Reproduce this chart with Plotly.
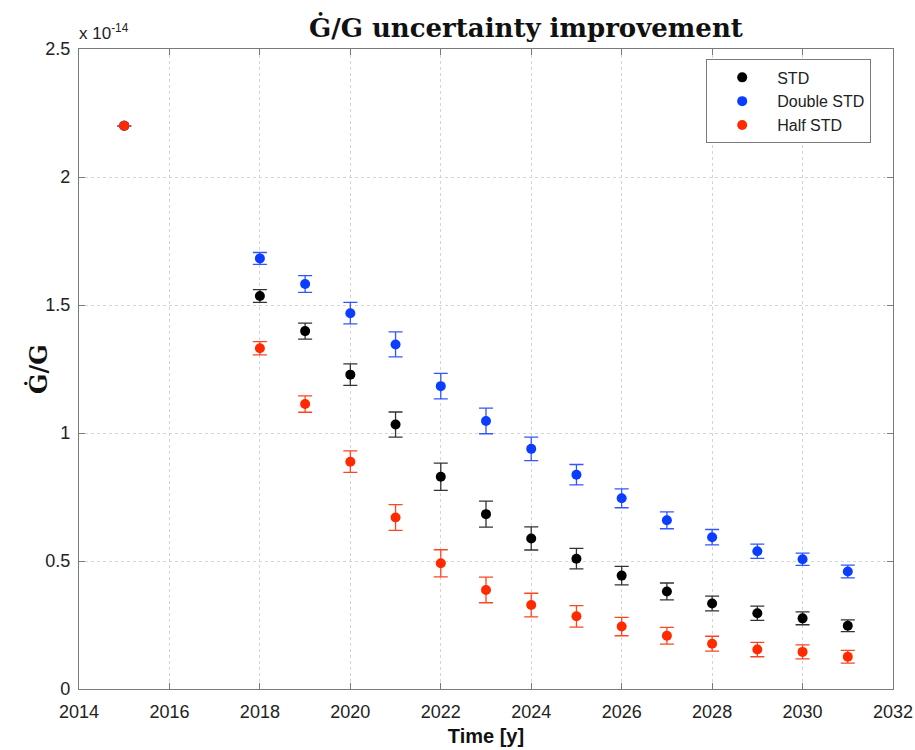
import plotly.graph_objects as go

# Projected fractional uncertainty on Gdot/G (values in units of 1e-14)
years = [2015, 2018, 2019, 2020, 2021, 2022, 2023, 2024, 2025, 2026, 2027, 2028, 2029, 2030, 2031]

std_vals = [2.20, 1.535, 1.398, 1.228, 1.033, 0.829, 0.683, 0.588, 0.509, 0.443, 0.381, 0.334, 0.296, 0.276, 0.247]
std_err = [0.0, 0.025, 0.031, 0.042, 0.049, 0.053, 0.051, 0.045, 0.040, 0.036, 0.033, 0.029, 0.028, 0.025, 0.023]

double_vals = [2.20, 1.682, 1.582, 1.468, 1.346, 1.183, 1.047, 0.938, 0.837, 0.745, 0.659, 0.593, 0.538, 0.507, 0.459]
double_err = [0.0, 0.023, 0.033, 0.042, 0.049, 0.050, 0.050, 0.046, 0.040, 0.037, 0.033, 0.030, 0.028, 0.024, 0.025]

half_vals = [2.20, 1.331, 1.113, 0.888, 0.670, 0.491, 0.387, 0.328, 0.284, 0.244, 0.208, 0.177, 0.154, 0.145, 0.126]
half_err = [0.0, 0.026, 0.032, 0.042, 0.050, 0.053, 0.050, 0.046, 0.042, 0.036, 0.033, 0.029, 0.028, 0.027, 0.025]

series = [
    ("STD", std_vals, std_err, "#000000", "#333333"),
    ("Double STD", double_vals, double_err, "#0a3dff", "#3355ff"),
    ("Half STD", half_vals, half_err, "#ff2a00", "#ff4422"),
]

x_ticks = list(range(2014, 2033, 2))
y_ticks = [0, 0.5, 1, 1.5, 2, 2.5]
y_tick_text = ["0", "0.5", "1", "1.5", "2", "2.5"]

SANS = "Liberation Sans, Arial, sans-serif"
SERIF = "DejaVu Serif, serif"

fig = go.Figure()
for name, vals, errs, color, err_color in series:
    fig.add_trace(go.Scatter(
        x=years, y=vals, name=name, mode="markers",
        marker=dict(color=color, size=10, line=dict(width=0)),
        error_y=dict(type="data", array=errs, visible=True,
                     color=err_color, thickness=1.3, width=7),
    ))

axis_common = dict(
    showline=True, linecolor="#7a7a7a", linewidth=1.2, mirror="allticks",
    ticks="inside", ticklen=6, tickcolor="#7a7a7a", tickwidth=1.2,
    showgrid=True, gridcolor="#d4d4d4", griddash="dot", gridwidth=1,
    zeroline=False, automargin=False,
    tickfont=dict(family=SANS, size=18, color="#222222"),
)

fig.update_xaxes(
    range=[2014, 2032], tickvals=x_ticks, ticktext=[str(t) for t in x_ticks],
    ticklabelstandoff=6,
    title=dict(text="<b>Time [y]</b>", standoff=8,
               font=dict(family=SANS, size=20, color="#111111")),
    **axis_common,
)
fig.update_yaxes(
    range=[0, 2.5], tickvals=y_ticks, ticktext=y_tick_text,
    ticklabelstandoff=4,
    **axis_common,
)

# y-axis label placed close to the tick labels
fig.add_annotation(
    text="<b>\u0120/G</b>", xref="paper", yref="paper", x=(38 - 79) / 814, y=0.50,
    xanchor="center", yanchor="middle", textangle=-90, showarrow=False,
    font=dict(family=SERIF, size=24, color="#111111"),
)

# shared exponent of the y-axis
fig.add_annotation(
    text="x 10<sup>-14</sup>", xref="paper", yref="paper", x=0.0, y=1.0,
    xanchor="left", yanchor="bottom", showarrow=False, yshift=4, xshift=-2,
    font=dict(family=SANS, size=17, color="#222222"),
)

fig.update_layout(
    width=915, height=750,
    margin=dict(l=79, r=22, t=49, b=61),
    paper_bgcolor="white", plot_bgcolor="white",
    title=dict(text="<b>\u0120/G uncertainty improvement</b>", x=0.549, xref="paper",
               xanchor="center", y=1 - 28 / 750, yanchor="middle",
               font=dict(family=SERIF, size=26, color="#111111")),
    showlegend=True,
    legend=dict(x=(706 - 79) / 814, y=0.984, xanchor="left", yanchor="top",
                bgcolor="white", bordercolor="#7a7a7a", borderwidth=1.2,
                font=dict(family=SANS, size=16, color="#222222"),
                itemwidth=60, entrywidth=168, tracegroupgap=0),
)

fig.write_html("out.html")
